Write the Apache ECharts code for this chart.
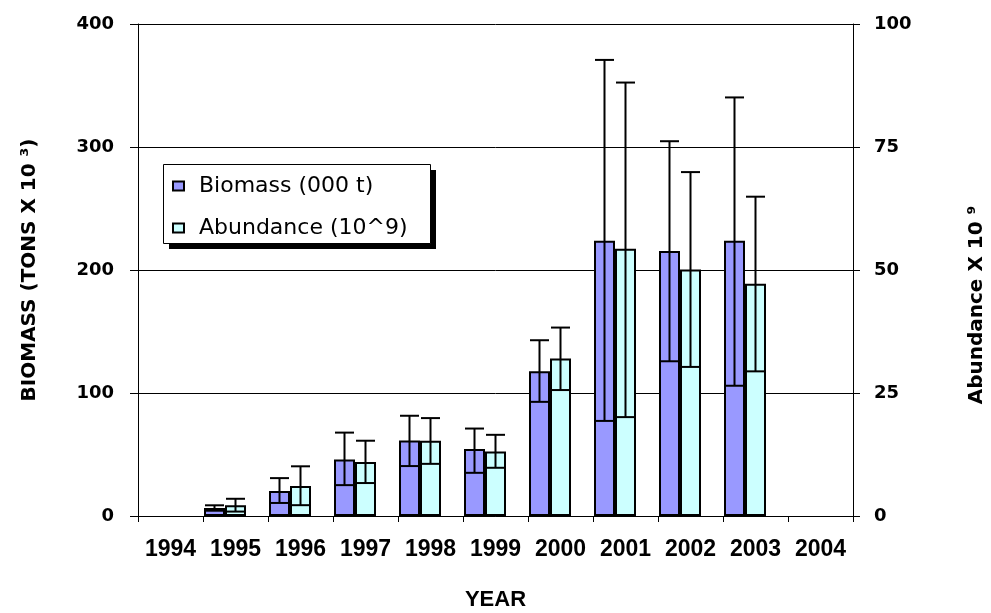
<!DOCTYPE html>
<html>
<head>
<meta charset="utf-8">
<script src="https://cdn.jsdelivr.net/npm/echarts@6/dist/echarts.min.js"></script>
<style>html,body{margin:0;padding:0;background:#fff;}#c{width:991px;height:613px;}</style>
</head>
<body>
<div id="c"></div>
<script>
const years = ['1994','1995','1996','1997','1998','1999','2000','2001','2002','2003','2004'];
const biomass     = ['-', 6.5, 20.4, 46.0, 61.3, 54.5, 117.6, 223.8, 215.4, 223.8, '-'];
const biomassHigh = ['-', 8.7, 30.8, 67.8, 81.5, 71.1, 142.9, 370.8, 304.7, 340.3, '-'];
const biomassLow  = ['-', 4.3, 10.6, 25.1, 40.6, 35.1, 92.8, 77.3, 125.8, 105.9, '-'];
const abundance     = ['-', 2.2, 6.1, 11.0, 15.3, 13.1, 32.0, 54.3, 50.1, 47.2, '-'];
const abundanceHigh = ['-', 3.5, 10.1, 15.3, 19.9, 16.5, 38.3, 88.1, 69.9, 64.9, '-'];
const abundanceLow  = ['-', 0.9, 2.2, 6.7, 10.6, 9.8, 25.6, 20.1, 30.3, 29.4, '-'];
const leftTicks = [0, 100, 200, 300, 400];
const rightTicks = [0, 25, 50, 75, 100];

const BAR_W = 21;
function errData(hi, lo) {
  const out = [];
  for (let i = 0; i < hi.length; i++) {
    if (hi[i] !== '-') out.push([i, hi[i], lo[i]]);
  }
  return out;
}
function makeErr(offsetFactor) {
  return function (params, api) {
    const i = api.value(0);
    const top = api.coord([i, api.value(1)]);
    const bot = api.coord([i, api.value(2)]);
    const x = top[0] + offsetFactor * BAR_W;
    const cap = 9.5;
    const st = { stroke: '#000', lineWidth: 2 };
    return {
      type: 'group',
      children: [
        { type: 'line', shape: { x1: x, y1: top[1], x2: x, y2: bot[1] }, style: st },
        { type: 'line', shape: { x1: x - cap, y1: top[1], x2: x + cap, y2: top[1] }, style: st },
        { type: 'line', shape: { x1: x - cap, y1: bot[1], x2: x + cap, y2: bot[1] }, style: st }
      ]
    };
  };
}

const chart = echarts.init(document.getElementById('c'), null, { renderer: 'canvas' });
const boldLabel = { color: '#000', fontWeight: 'bold', fontFamily: 'DejaVu Sans', fontSize: 18 };
function innerTickAxis(pos, ticks, interval) {
  return {
    type: 'value', min: ticks[0], max: ticks[ticks.length - 1], interval: interval,
    position: pos,
    axisLine: { show: false },
    axisTick: { show: true, inside: true, length: 7, lineStyle: { color: '#000' } },
    axisLabel: { show: false },
    splitLine: { show: false }
  };
}
chart.setOption({
  animation: false,
  backgroundColor: '#fff',
  grid: { left: 138, right: 138, top: 24, bottom: 97, containLabel: false, outerBoundsMode: 'none' },
  graphic: [
    { type: 'rect', z: 50, left: 169, top: 170, shape: { width: 267, height: 79 }, style: { fill: '#000' }, silent: true },
    { type: 'rect', z: 51, left: 163, top: 164, shape: { width: 267, height: 79 }, style: { fill: '#fff', stroke: '#000', lineWidth: 1 }, silent: true },
    { type: 'text', z: 51, x: 977, y: 305, rotation: Math.PI / 2,
      style: { text: 'Abundance X 10 ⁹', fill: '#000', font: 'bold 20px "DejaVu Sans"', textAlign: 'center', textVerticalAlign: 'middle' } }
  ],
  legend: {
    z: 60,
    data: ['Biomass (000 t)', 'Abundance (10^9)'],
    orient: 'vertical',
    left: 163, top: 164,
    padding: [11, 20, 5, 9],
    itemGap: 20,
    itemWidth: 11, itemHeight: 9,
    icon: 'rect',
    textStyle: { color: '#000', fontFamily: 'DejaVu Sans', fontSize: 22, padding: [0, 0, 0, 10] }
  },
  xAxis: {
    type: 'category',
    data: years,
    boundaryGap: true,
    axisLine: { lineStyle: { color: '#000', width: 1 } },
    axisTick: { show: true, interval: 0, length: 6, lineStyle: { color: '#000' } },
    axisLabel: { interval: 0, margin: 22, color: '#000', fontWeight: 'bold', fontFamily: 'Liberation Sans', fontSize: 23 },
    name: 'YEAR',
    nameLocation: 'middle',
    nameGap: 73,
    nameTextStyle: { color: '#000', fontWeight: 'bold', fontFamily: 'Liberation Sans', fontSize: 22 }
  },
  yAxis: [
    {
      type: 'value', min: leftTicks[0], max: leftTicks[leftTicks.length - 1], interval: 100,
      position: 'left',
      axisLine: { show: true, lineStyle: { color: '#000', width: 1 } },
      axisTick: { show: true, length: 8, lineStyle: { color: '#000' } },
      axisLabel: Object.assign({ margin: 24 }, boldLabel),
      splitLine: { show: true, lineStyle: { color: '#000', width: 1 } },
      name: 'BIOMASS (TONS X 10 ³)',
      nameLocation: 'middle',
      nameRotate: 90,
      nameGap: 98,
      nameTextStyle: { color: '#000', fontWeight: 'bold', fontFamily: 'DejaVu Sans', fontSize: 20 }
    },
    {
      type: 'value', min: rightTicks[0], max: rightTicks[rightTicks.length - 1], interval: 25,
      position: 'right',
      axisLine: { show: true, lineStyle: { color: '#000', width: 1 } },
      axisTick: { show: true, length: 7, lineStyle: { color: '#000' } },
      axisLabel: Object.assign({ margin: 21 }, boldLabel),
      splitLine: { show: false }
    },
    innerTickAxis('left', leftTicks, 100),
    innerTickAxis('right', rightTicks, 25)
  ],
  series: [
    {
      name: 'Biomass (000 t)', type: 'bar', yAxisIndex: 0, data: biomass,
      barWidth: BAR_W, barGap: '0%',
      itemStyle: { color: '#9999FF', borderColor: '#000', borderWidth: 2 }
    },
    {
      name: 'Abundance (10^9)', type: 'bar', yAxisIndex: 1, data: abundance,
      barWidth: BAR_W, barGap: '0%',
      itemStyle: { color: '#CCFFFF', borderColor: '#000', borderWidth: 2 }
    },
    {
      name: 'spacer', type: 'bar', yAxisIndex: 0, data: years.map(() => '-'),
      barWidth: BAR_W, barGap: '0%', silent: true
    },
    {
      name: 'biomassErr', type: 'custom', yAxisIndex: 0, z: 10,
      renderItem: makeErr(-1), data: errData(biomassHigh, biomassLow), silent: true
    },
    {
      name: 'abundanceErr', type: 'custom', yAxisIndex: 1, z: 10,
      renderItem: makeErr(0), data: errData(abundanceHigh, abundanceLow), silent: true
    }
  ]
});
</script>
</body>
</html>
